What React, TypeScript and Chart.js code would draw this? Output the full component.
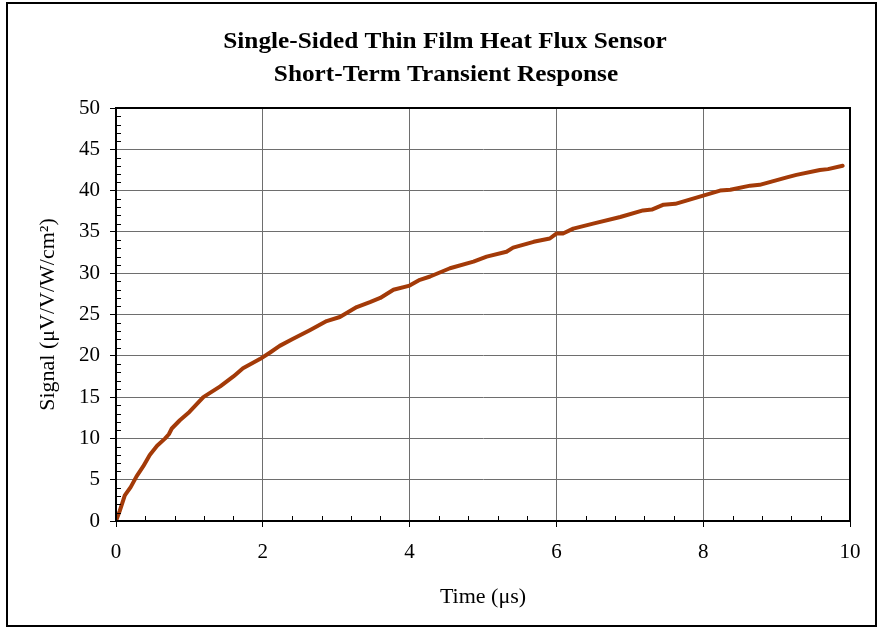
import React, { useEffect, useRef } from "react";
import { Chart, registerables } from "chart.js";

Chart.register(...registerables);

const titleLines = ["Single-Sided Thin Film Heat Flux Sensor", "Short-Term Transient Response"];
const xAxisTitle = "Time (μs)";
const yAxisTitle = "Signal (μV/V/W/cm²)";

const timeUs = [
  0, 0.05, 0.12, 0.2, 0.28, 0.37, 0.46, 0.56, 0.67, 0.72, 0.76, 0.87, 1.0, 1.19, 1.42, 1.6, 1.73, 1.96,
  2.1, 2.23, 2.4, 2.64, 2.87, 3.05, 3.28, 3.46, 3.6, 3.78, 4.0, 4.14, 4.28, 4.55, 4.87, 5.05, 5.32, 5.41,
  5.69, 5.91, 6.0, 6.09, 6.23, 6.5, 6.87, 7.18, 7.3, 7.46, 7.62, 8.0, 8.23, 8.37, 8.64, 8.77, 9.14, 9.27,
  9.59, 9.7, 9.9,
];
const signal = [
  0, 1.2, 3.1, 4.1, 5.4, 6.6, 8.0, 9.1, 10.0, 10.5, 11.2, 12.2, 13.2, 15.0, 16.3, 17.5, 18.5, 19.6,
  20.4, 21.2, 22.0, 23.1, 24.2, 24.7, 25.9, 26.5, 27.0, 28.0, 28.5, 29.2, 29.6, 30.6, 31.4, 32.0, 32.6, 33.1,
  33.8, 34.2, 34.8, 34.8, 35.4, 36.0, 36.8, 37.6, 37.7, 38.3, 38.4, 39.4, 40.0, 40.1, 40.6, 40.7, 41.6, 41.9,
  42.5, 42.6, 43.0,
];

const xMin = 0, xMax = 10, xMajor = 2, xMinor = 0.4;
const yMin = 0, yMax = 50, yMajor = 5, yMinor = 1;

const FONT = "'Liberation Serif', 'Times New Roman', serif";

const decorPlugin = {
  id: "decor",
  beforeDraw(chart: any) {
    const { ctx, width, height } = chart;
    ctx.save();
    ctx.fillStyle = "#ffffff";
    ctx.fillRect(0, 0, width, height);
    ctx.restore();
  },
  afterDraw(chart: any) {
    const { ctx, chartArea, scales } = chart;
    const xs = scales.x, ys = scales.y;
    ctx.save();
    // minor ticks
    ctx.strokeStyle = "#000";
    ctx.lineWidth = 1;
    ctx.beginPath();
    const nY = Math.round((yMax - yMin) / yMinor);
    for (let i = 0; i <= nY; i++) {
      const v = yMin + i * yMinor;
      if (Math.abs(v / yMajor - Math.round(v / yMajor)) < 1e-6) continue;
      const py = Math.round(ys.getPixelForValue(v)) + 0.5;
      ctx.moveTo(chartArea.left, py);
      ctx.lineTo(chartArea.left + 5, py);
    }
    const nX = Math.round((xMax - xMin) / xMinor);
    for (let i = 0; i <= nX; i++) {
      const v = xMin + i * xMinor;
      if (Math.abs(v / xMajor - Math.round(v / xMajor)) < 1e-6) continue;
      const px = Math.round(xs.getPixelForValue(v)) + 0.5;
      ctx.moveTo(px, chartArea.bottom);
      ctx.lineTo(px, chartArea.bottom - 5);
    }
    ctx.stroke();
    // plot frame
    ctx.lineWidth = 2;
    ctx.strokeRect(chartArea.left, chartArea.top, chartArea.right - chartArea.left, chartArea.bottom - chartArea.top);
    // outer frame
    ctx.strokeRect(7, 3, 869, 623);
    // title (slightly widened like the reference)
    ctx.fillStyle = "#000";
    ctx.font = `bold 23px ${FONT}`;
    ctx.textAlign = "center";
    ctx.textBaseline = "middle";
    const drawWide = (text: string, x: number, y: number) => {
      ctx.save();
      ctx.translate(x, y);
      ctx.scale(1.1, 1);
      ctx.fillText(text, 0, 0);
      ctx.restore();
    };
    drawWide(titleLines[0], 445, 42);
    drawWide(titleLines[1], 446, 75);
    ctx.restore();
  },
};

export default function App() {
  const ref = useRef<HTMLCanvasElement>(null);
  useEffect(() => {
    document.body.style.margin = "0";
    const canvas = ref.current;
    if (!canvas) return;
    const points = timeUs.map((t, i) => ({ x: t, y: signal[i] }));
    const chart = new Chart(canvas, {
      type: "line",
      data: {
        datasets: [
          {
            data: points,
            borderColor: "#A33A08",
            borderWidth: 4,
            pointRadius: 0,
            tension: 0,
            fill: false,
            borderCapStyle: "round",
            borderJoinStyle: "round",
          },
        ],
      },
      options: {
        responsive: false,
        animation: false,
        events: [],
        layout: { padding: { top: 108, right: 28, left: 0, bottom: 0 } },
        plugins: { legend: { display: false }, title: { display: false }, tooltip: { enabled: false } },
        scales: {
          x: {
            type: "linear",
            min: xMin,
            max: xMax,
            afterFit: (s: any) => { s.height = 107; },
            ticks: { stepSize: xMajor, color: "#000", font: { family: FONT, size: 21 }, padding: 13, maxRotation: 0 },
            grid: { color: "#6e6e6e", lineWidth: 1, tickLength: 6, tickColor: "#000", drawTicks: true },
            border: { display: true, color: "#000", width: 2 },
            title: { display: true, text: xAxisTitle, color: "#000", font: { family: FONT, size: 22 }, padding: { top: 4, bottom: 18 } },
          },
          y: {
            type: "linear",
            min: yMin,
            max: yMax,
            afterFit: (s: any) => { s.width = 116; },
            ticks: { stepSize: yMajor, color: "#000", font: { family: FONT, size: 21 }, padding: 10 },
            grid: { color: "#6e6e6e", lineWidth: 1, tickLength: 6, tickColor: "#000", drawTicks: true },
            border: { display: true, color: "#000", width: 2 },
            title: { display: true, text: yAxisTitle, color: "#000", font: { family: FONT, size: 22 }, padding: { top: 35, bottom: 4 } },
          },
        },
      },
      plugins: [decorPlugin],
    });
    return () => chart.destroy();
  }, []);
  return <canvas ref={ref} width={878} height={628} style={{ display: "block" }} />;
}
